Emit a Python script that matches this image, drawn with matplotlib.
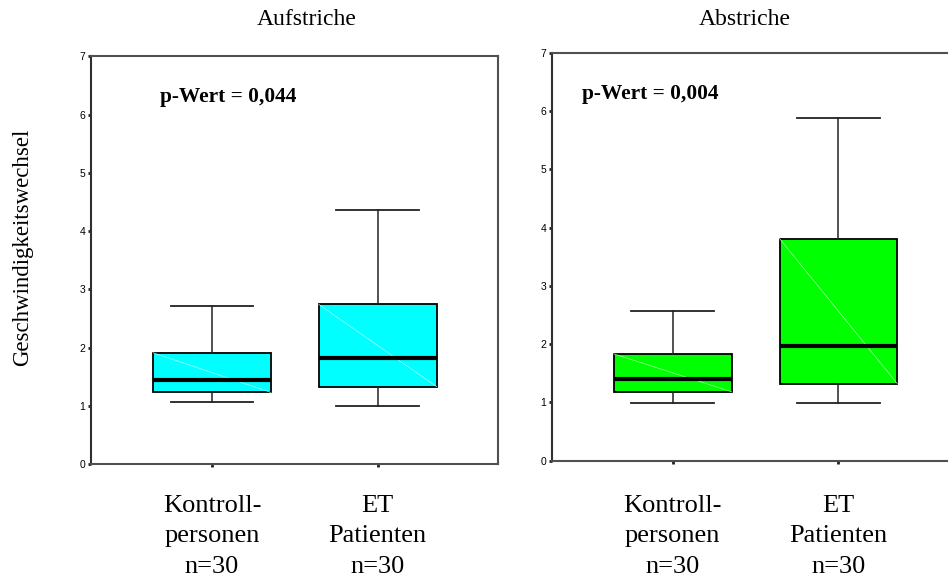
import numpy as np
import matplotlib
matplotlib.use("Agg")
import matplotlib.pyplot as plt

# Boxplot-Kennwerte
groups = ["Kontroll-\npersonen\nn=30", "ET\nPatienten\nn=30"]
panel_titles = ["Aufstriche", "Abstriche"]
p_values = ["p-Wert = 0,044", "p-Wert = 0,004"]
box_colors = ["#00FFFF", "#00FF00"]
diag_colors = ["#a8ffff", "#a8ffa8"]

auf_whislo = [1.06, 1.00]
auf_q1 = [1.23, 1.33]
auf_med = [1.44, 1.82]
auf_q3 = [1.91, 2.74]
auf_whishi = [2.71, 4.36]

ab_whislo = [0.99, 0.99]
ab_q1 = [1.18, 1.32]
ab_med = [1.40, 1.97]
ab_q3 = [1.83, 3.81]
ab_whishi = [2.57, 5.88]

yticks = [0, 1, 2, 3, 4, 5, 6, 7]

serif = "Liberation Serif"
sans = "Liberation Sans"
positions = [1, 2]
box_w = 0.71


def make_stats(whislo, q1, med, q3, whishi):
    stats = []
    for i in range(len(med)):
        stats.append({"whislo": whislo[i], "q1": q1[i], "med": med[i],
                      "q3": q3[i], "whishi": whishi[i], "fliers": []})
    return stats


def draw_panel(ax, stats, color, diag, ptext, px, xpad):
    ax.bxp(stats, positions=positions, widths=box_w, showfliers=False,
           patch_artist=True,
           boxprops=dict(facecolor=color, edgecolor="black", linewidth=1.3),
           medianprops=dict(color="black", linewidth=3, zorder=4),
           whiskerprops=dict(color="#222222", linewidth=1.1),
           capprops=dict(color="#222222", linewidth=1.3),
           capwidths=0.5)
    # feine Diagonale im Kasten (wie im Original-Export)
    for p, st in zip(positions, stats):
        ax.plot([p - box_w / 2, p + box_w / 2], [st["q3"], st["q1"]],
                color=diag, linewidth=0.5, zorder=3)
    ax.set_xlim(0.27, 2.726)
    ax.set_ylim(0, 7)
    ax.set_yticks(yticks)
    ax.set_yticklabels([str(t) for t in yticks], fontfamily=sans, fontsize=7.5)
    ax.set_xticks(positions)
    ax.set_xticklabels(groups, fontfamily=serif, fontsize=19, linespacing=1.52)
    ax.tick_params(axis="y", length=2, width=2, pad=2, color="#222222")
    ax.tick_params(axis="x", length=2, width=2, pad=xpad, color="#222222")
    for s in ax.spines.values():
        s.set_color("#505050")
        s.set_linewidth(1.5)
    ax.spines["left"].set_color("#303030")
    ax.text(px, 0.9, ptext, transform=ax.transAxes, fontfamily=serif,
            fontweight="bold", fontsize=15.4, va="center", ha="left")


fig = plt.figure(figsize=(9.48, 5.81), dpi=100)

ax1 = fig.add_axes([0.096, 0.2014, 0.4293, 0.7014])
draw_panel(ax1, make_stats(auf_whislo, auf_q1, auf_med, auf_q3, auf_whishi),
           box_colors[0], diag_colors[0], p_values[0], 0.17, 20)

ax2 = fig.add_axes([0.582, 0.2074, 0.4293, 0.7017])
draw_panel(ax2, make_stats(ab_whislo, ab_q1, ab_med, ab_q3, ab_whishi),
           box_colors[1], diag_colors[1], p_values[1], 0.075, 22.5)

fig.text(306.7 / 948, 0.967, panel_titles[0], fontfamily=serif, fontsize=17,
         ha="center", va="center")
fig.text(744.3 / 948, 0.967, panel_titles[1], fontfamily=serif, fontsize=17,
         ha="center", va="center")
fig.text(23 / 948, 0.575, "Geschwindigkeitswechsel", fontfamily=serif,
         fontsize=16.5, rotation=90, ha="center", va="center")

fig.savefig("out.png", dpi=100)
